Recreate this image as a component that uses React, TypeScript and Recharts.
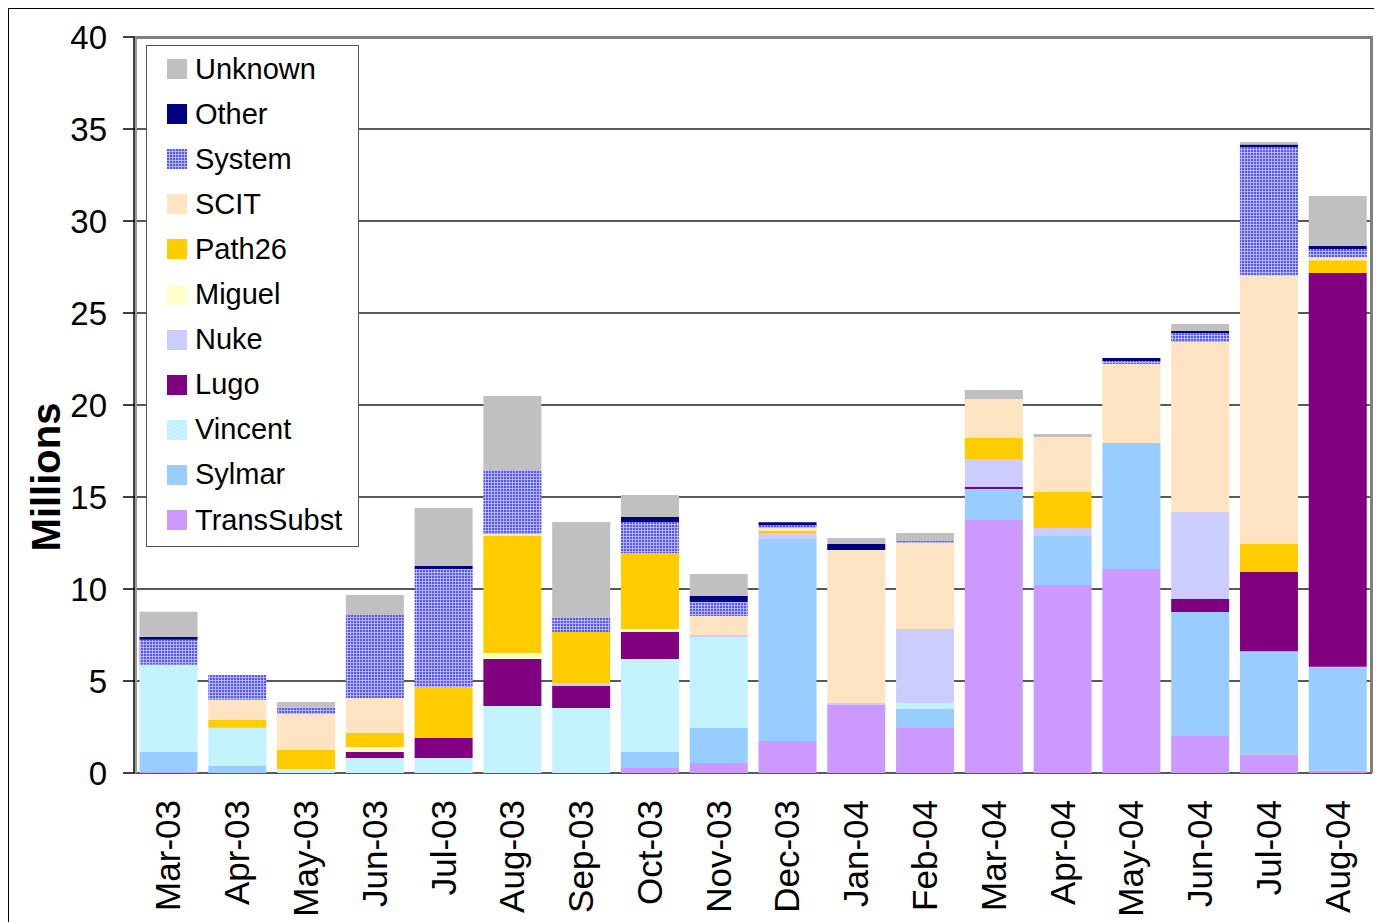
import React from "react";
import { BarChart, Bar, XAxis, YAxis, CartesianGrid } from "recharts";

const months = [
  "Mar-03", "Apr-03", "May-03", "Jun-03", "Jul-03", "Aug-03",
  "Sep-03", "Oct-03", "Nov-03", "Dec-03", "Jan-04", "Feb-04",
  "Mar-04", "Apr-04", "May-04", "Jun-04", "Jul-04", "Aug-04",
];

// monthly volumes, millions
const transSubst = [0.1, 0, 0, 0, 0, 0, 0, 0.27, 0.54, 1.74, 3.7, 2.45, 13.75, 10.22, 11.09, 2.01, 1.01, 0.14];
const sylmar = [1.05, 0.38, 0, 0, 0, 0, 0, 0.87, 1.91, 10.98, 0, 1.03, 1.68, 2.66, 6.84, 6.74, 5.61, 5.63];
const vincent = [4.73, 2.08, 0.22, 0.82, 0.82, 3.64, 3.53, 5.06, 4.94, 0, 0, 0.32, 0, 0, 0, 0, 0, 0];
const lugo = [0, 0, 0, 0.32, 1.08, 2.56, 1.2, 1.46, 0, 0, 0, 0, 0.11, 0, 0, 0.71, 4.3, 21.4];
const nuke = [0, 0, 0, 0, 0, 0, 0.16, 0, 0.11, 0.32, 0.1, 4.03, 1.53, 0.44, 0, 4.72, 0, 0];
const miguel = [0, 0, 0, 0.27, 0, 0.32, 0, 0.17, 0, 0, 0, 0, 0, 0, 0, 0, 0, 0];
const path26 = [0, 0.42, 1.03, 0.76, 2.77, 6.36, 2.77, 4.13, 0, 0.11, 0, 0, 1.14, 1.95, 0, 0, 1.54, 0.7];
const scit = [0, 1.1, 1.95, 1.91, 0, 0.11, 0, 0, 1.03, 0.16, 8.32, 4.67, 2.12, 2.99, 4.3, 9.24, 14.58, 0.16];
const system = [1.36, 1.35, 0.35, 4.51, 6.42, 3.48, 0.76, 1.68, 0.76, 0.16, 0, 0.11, 0, 0, 0.16, 0.49, 6.98, 0.45];
const other = [0.16, 0, 0, 0, 0.16, 0, 0, 0.27, 0.33, 0.16, 0.33, 0, 0, 0, 0.16, 0.11, 0.14, 0.16];
const unknown = [1.36, 0, 0.31, 1.08, 3.15, 4.02, 5.22, 1.2, 1.2, 0, 0.32, 0.43, 0.49, 0.16, 0, 0.38, 0.13, 2.72];

const yTicks = [0, 5, 10, 15, 20, 25, 30, 35, 40];

// stacked bottom -> top
const series = [
  { key: "TransSubst", values: transSubst, fill: "#cc99ff" },
  { key: "Sylmar", values: sylmar, fill: "#99ccff" },
  { key: "Vincent", values: vincent, fill: "url(#hatchVincent)" },
  { key: "Lugo", values: lugo, fill: "#800080" },
  { key: "Nuke", values: nuke, fill: "#ccccff" },
  { key: "Miguel", values: miguel, fill: "#ffffcc" },
  { key: "Path26", values: path26, fill: "#ffcc00" },
  { key: "SCIT", values: scit, fill: "url(#hatchScit)" },
  { key: "System", values: system, fill: "url(#gridSystem)" },
  { key: "Other", values: other, fill: "#000080" },
  { key: "Unknown", values: unknown, fill: "#c0c0c0" },
];

const data = months.map((month, i) => {
  const row: any = { month, idx: i + 0.5 };
  series.forEach((s) => (row[s.key] = s.values[i]));
  return row;
});

const FONT = "'Liberation Sans', Arial, sans-serif";

const MonthTick = ({ x, y, payload }: any) => {
  const tx = x + 12;
  const ty = y + 27;
  return (
    <text
      x={tx}
      y={ty}
      transform={`rotate(-90, ${tx}, ${ty})`}
      textAnchor="end"
      fontSize={35}
      fontFamily={FONT}
      fill="#000"
    >
      {payload.value}
    </text>
  );
};

const Patterns = () => (
  <svg width={0} height={0} style={{ position: "absolute" }}>
    <defs>
      <pattern id="gridSystem" width={3} height={3} patternUnits="userSpaceOnUse">
        <rect width={3} height={3} fill="#5555ff" />
        <rect x={2} width={1} height={3} fill="#b4b4ff" />
        <rect y={2} width={3} height={1} fill="#b4b4ff" />
      </pattern>
      <pattern id="hatchVincent" width={4} height={4} patternUnits="userSpaceOnUse">
        <rect width={4} height={4} fill="#c8f4ff" />
        <path d="M0,4 L4,0" stroke="#b8ecff" strokeWidth={1} />
      </pattern>
      <pattern id="hatchScit" width={4} height={4} patternUnits="userSpaceOnUse">
        <rect width={4} height={4} fill="#ffe6c6" />
        <path d="M0,4 L4,0" stroke="#fddcb6" strokeWidth={1} />
      </pattern>
    </defs>
  </svg>
);

const LegendBox = () => {
  const items = [...series].reverse();
  return (
    <div
      style={{
        position: "absolute",
        left: 137,
        top: 36,
        width: 213,
        height: 502,
        boxSizing: "border-box",
        background: "#fff",
        border: "1.5px solid #555",
        fontFamily: FONT,
      }}
    >
      {items.map((s, i) => (
        <div key={s.key} style={{ position: "absolute", left: 20, top: 23 + i * 45.1 - 16, height: 32, display: "flex", alignItems: "center" }}>
          <svg width={20} height={20} style={{ display: "block" }}>
            <rect width={20} height={20} fill={s.fill} />
          </svg>
          <span style={{ marginLeft: 8, fontSize: 29, color: "#000", whiteSpace: "nowrap" }}>{s.key}</span>
        </div>
      ))}
    </div>
  );
};

export default function App() {
  return (
    <div
      style={{
        position: "relative",
        width: 1373,
        height: 913,
        borderTop: "1px solid #000",
        borderLeft: "1px solid #000",
        background: "#fff",
      }}
    >
      <Patterns />
      <BarChart
        width={1373}
        height={913}
        data={data}
        margin={{ top: 28, right: 10, left: 0, bottom: 9 }}
        barCategoryGap="8%"
      >
        <CartesianGrid vertical={false} stroke="#222" strokeWidth={1.5} />
        <XAxis
          xAxisId="edge"
          dataKey="idx"
          type="number"
          domain={[0, 18]}
          ticks={[0, 1, 2, 3, 4, 5, 6, 7, 8, 9, 10, 11, 12, 13, 14, 15, 16, 17, 18]}
          allowDataOverflow
          height={0}
          tickSize={11}
          tickFormatter={() => ""}
          axisLine={{ stroke: "#000", strokeWidth: 1.5 }}
          tickLine={{ stroke: "#555", strokeWidth: 1.5 }}
        />
        <XAxis
          xAxisId="cat"
          dataKey="month"
          height={140}
          interval={0}
          tickSize={0}
          tickMargin={0}
          axisLine={false}
          tickLine={false}
          tick={<MonthTick />}
        />
        <YAxis
          domain={[0, 40]}
          ticks={yTicks}
          width={125}
          tickSize={11}
          tickMargin={16}
          axisLine={{ stroke: "#000", strokeWidth: 1.5 }}
          tickLine={{ stroke: "#000", strokeWidth: 1.5 }}
          tick={{ fill: "#000", fontSize: 33, fontFamily: FONT }}
          label={() => (
            <text
              x={37}
              y={468}
              transform="rotate(-90, 37, 468)"
              textAnchor="middle"
              dominantBaseline="central"
              fontSize={40}
              fontWeight="bold"
              fontFamily={FONT}
              fill="#000"
            >
              Millions
            </text>
          )}
        />
        {series.map((s) => (
          <Bar
            key={s.key}
            xAxisId="cat"
            dataKey={s.key}
            name={s.key}
            stackId="a"
            fill={s.fill}
            isAnimationActive={false}
          />
        ))}
      </BarChart>
      {/* plot frame: grey top and right edge */}
      <div
        style={{
          position: "absolute",
          left: 126,
          top: 27,
          width: 1238,
          height: 737,
          boxSizing: "border-box",
          borderTop: "3px solid #808080",
          borderRight: "3px solid #808080",
          borderLeft: "2px solid #9a9a9a",
          pointerEvents: "none",
        }}
      />
      <LegendBox />
    </div>
  );
}
